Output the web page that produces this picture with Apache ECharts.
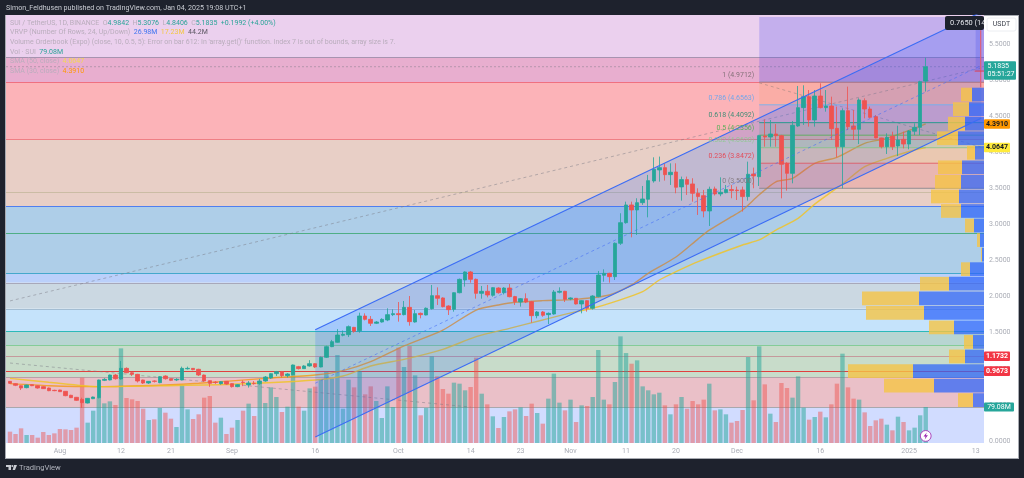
<!DOCTYPE html>
<html><head><meta charset="utf-8">
<style>
html,body{margin:0;padding:0;background:#1e222d;width:1024px;height:478px;overflow:hidden}
#frame{position:absolute;left:5px;top:15px;width:1012px;height:442px;background:#fff;border:1px solid #a8abb2}
#c{position:absolute;left:0;top:0;width:1024px;height:478px;filter:blur(.3px)}
</style>
<script src="https://cdn.jsdelivr.net/npm/echarts@6/dist/echarts.min.js"></script>
</head><body><div id="frame"></div><div id="c"></div>
<script>
// ---------- data ----------
const firstDay = '2024-07-23', dayCount = 176;
const tickLabels = {'2024-08-01':'Aug','2024-08-12':'12','2024-08-21':'21','2024-09-01':'Sep','2024-09-16':'16','2024-10-01':'Oct','2024-10-14':'14','2024-10-23':'23','2024-11-01':'Nov','2024-11-11':'11','2024-11-20':'20','2024-12-01':'Dec','2024-12-16':'16','2025-01-01':'2025','2025-01-13':'13'};
const priceTicks = [0,0.5,1,1.5,2,2.5,3,3.5,4,4.5,5,5.5];
// open, close, low, high
const ohlc = [
[.826,.799,.79,.83],[.794,.771,.76,.80],[.766,.734,.706,.77],[.739,.776,.73,.78],[.78,.766,.76,.785],[.766,.734,.725,.77],[.753,.725,.72,.76],[.734,.697,.69,.74],[.702,.697,.69,.71],[.706,.683,.68,.71],
[.688,.628,.62,.69],[.633,.600,.595,.64],[.605,.563,.555,.61],[.577,.531,.457,.60],[.526,.591,.52,.595],[.586,.609,.58,.615],[.600,.845,.59,.85],[.84,.854,.83,.87],[.845,.914,.84,.92],[.914,.863,.85,.93],
[.859,1.006,.85,1.108],[1.006,.946,.94,1.02],[.946,.923,.90,.96],[.923,.831,.81,.93],[.845,.803,.79,.85],[.803,.826,.79,.83],[.831,.826,.81,.84],[.808,.891,.80,.90],[.900,.863,.85,.91],[.863,.84,.83,.87],
[.845,.854,.83,.87],[.845,1.006,.84,1.03],[1.0,1.006,.99,1.03],[1.006,.988,.98,1.01],[.993,.914,.90,1.0],[.914,.831,.82,.92],[.836,.799,.75,.84],[.815,.81,.79,.83],[.794,.822,.78,.83],[.826,.789,.78,.83],
[.794,.753,.74,.80],[.753,.78,.745,.785],[.815,.81,.76,.84],[.776,.803,.74,.83],[.80,.795,.78,.83],[.794,.831,.78,.86],[.831,.886,.82,.90],[.873,.933,.86,.94],[.933,.96,.90,.97],[.96,.905,.88,.97],
[.905,.928,.88,.94],[.919,1.053,.91,1.06],[1.03,1.002,.99,1.04],[1.002,1.039,1.0,1.05],[1.039,1.071,1.03,1.12],[1.071,1.025,1.01,1.08],[1.025,1.159,1.02,1.17],[1.159,1.307,1.15,1.32],[1.307,1.376,1.30,1.40],[1.367,1.468,1.36,1.55],
[1.464,1.477,1.45,1.53],[1.473,1.584,1.44,1.6],[1.574,1.519,1.50,1.58],[1.528,1.731,1.50,1.777],[1.731,1.685,1.67,1.768],[1.685,1.630,1.593,1.731],[1.63,1.648,1.62,1.66],[1.648,1.685,1.64,1.70],[1.676,1.750,1.66,1.838],[1.750,1.764,1.73,1.824],
[1.764,1.750,1.653,1.925],[1.750,1.851,1.74,1.939],[1.851,1.653,1.597,2.008],[1.648,1.764,1.64,1.814],[1.768,1.750,1.699,1.78],[1.745,1.838,1.74,1.85],[1.833,2.013,1.82,2.161],[2.013,1.976,1.884,2.128],[1.981,1.861,1.85,1.99],[1.870,1.819,1.745,1.88],
[1.824,2.054,1.791,2.06],[2.054,2.239,2.045,2.25],[2.230,2.341,2.138,2.350],[2.341,2.239,2.193,2.355],[2.239,2.045,1.971,2.25],[2.045,2.073,1.971,2.147],[2.073,2.022,1.990,2.161],[2.018,2.124,1.999,2.13],[2.119,2.054,2.04,2.13],[2.054,2.119,2.03,2.13],
[2.119,1.999,1.99,2.174],[2.0,1.930,1.884,2.01],[1.925,1.971,1.861,1.98],[1.971,1.925,1.91,2.045],[1.930,1.736,1.639,1.94],[1.736,1.787,1.699,1.80],[1.787,1.741,1.72,1.80],[1.750,1.768,1.620,1.78],[1.759,2.064,1.75,2.091],[2.06,2.073,2.045,2.128],
[2.073,1.962,1.925,2.08],[1.967,1.981,1.95,1.99],[1.976,1.898,1.89,1.98],[1.898,1.944,1.768,1.95],[1.944,1.838,1.791,1.95],[1.838,2.008,1.82,2.02],[2.0,2.299,1.99,2.355],[2.295,2.322,2.207,2.378],[2.322,2.276,2.193,2.33],[2.276,2.738,2.23,2.75],
[2.738,3.024,2.715,3.154],[3.024,3.269,3.01,3.315],[3.269,3.2,2.821,3.315],[3.2,3.301,2.854,3.362],[3.301,3.352,3.27,3.532],[3.348,3.606,3.098,3.685],[3.602,3.763,3.578,3.929],[3.754,3.786,3.592,3.939],[3.786,3.689,3.606,3.846],[3.689,3.722,3.546,3.846],
[3.726,3.514,3.431,3.846],[3.519,3.62,3.329,3.662],[3.62,3.555,3.408,3.662],[3.56,3.431,3.315,3.639],[3.431,3.385,3.131,3.5],[3.398,3.186,3.098,3.477],[3.186,3.486,2.978,3.523],[3.491,3.422,3.40,3.523],[3.422,3.445,3.39,3.652],[3.44,3.482,3.43,3.546],
[3.482,3.468,3.362,3.546],[3.475,3.468,3.338,3.523],[3.477,3.385,3.177,3.523],[3.385,3.694,3.329,3.869],[3.698,3.671,3.5,3.786],[3.661,4.229,3.532,4.24],[4.224,4.21,4.076,4.455],[4.21,4.252,4.076,4.446],[4.252,4.229,4.076,4.39],[4.229,3.832,3.361,4.24],
[3.846,3.707,3.467,3.86],[3.707,4.372,3.569,4.432],[4.363,4.617,4.35,4.917],[4.617,4.769,4.377,4.926],[4.769,4.446,4.354,4.861],[4.446,4.778,4.354,4.861],[4.778,4.617,4.607,4.954],[4.617,4.64,4.561,4.861],[4.64,4.326,4.169,4.769],[4.33,4.076,3.929,4.631],
[4.076,4.575,3.499,4.607],[4.575,4.354,4.307,4.908],[4.363,4.317,4.169,4.584],[4.317,4.723,4.113,4.746],[4.714,4.598,4.469,4.746],[4.598,4.483,4.47,4.631],[4.492,4.197,4.192,4.515],[4.197,4.076,4.053,4.20],[4.076,4.206,3.975,4.261],[4.22,4.076,4.03,4.284],
[4.086,4.169,3.947,4.367],[4.178,4.113,4.053,4.284],[4.113,4.293,4.04,4.307],[4.29,4.344,4.238,4.40],[4.344,4.977,4.238,4.99],[4.9842,5.1835,4.8406,5.3076]];
const volumes = [24.9,19.8,32.2,17.6,17.6,11.7,24.2,17.6,21.2,30.7,30,28.5,33.7,143.5,44.7,71,99.6,87.1,91.5,83.4,
207.9,98.8,95.9,92.2,75.4,50.5,52,76.9,66.6,53.4,35.1,127.4,73.9,52.7,63,99.6,103.2,44.7,55.6,19.8,
33.7,50.5,71,86.4,59.3,131,87.8,122.2,101,68.1,79.8,171.3,79.8,71,120,123.7,139.8,156.6,142,193.2,
75.4,139,122.2,158.1,106.9,124.4,92.2,54.9,124.4,79,209.4,166.9,213,148.6,60.8,76.9,190.3,146.4,118.6,108.3,
132.5,130.3,115.7,123,187.4,108.3,84.9,58.6,32.9,57.1,69.5,73.9,78.3,59.3,86.4,65.9,42.5,97.4,152.3,88.6,
71.7,95.2,46.1,82.7,81.3,101,204.2,95.2,84.9,134,234.2,197.6,174.2,181.5,124.4,115.7,106.9,110.5,82.7,63,
84.9,101,75.4,92.2,84.9,95.2,130.3,71.7,73.9,63,44.7,48.3,72.5,188.9,93.7,212.3,128.8,64.4,46.1,131.8,
120.8,99.6,146.4,77.6,51.2,57.1,68.8,56.4,84.9,130.3,196.2,122.2,97.4,95.2,67.3,37.3,49.8,53.4,40.3,27.8,
57.8,46.1,27.8,33.7,60.8,79.08];
const sma30 = [[0,.794],[7,.766],[16,.753],[28,.776],[34,.799],[46,.868],[55,.914],[60,.974],[65,1.099],[71,1.316],[78,1.537],[84,1.814],[88,1.884],[91,1.921],[96,1.944],[102,1.962],[108,2.022],[112,2.161],[115,2.322],[120,2.548],[124,2.80],[126,2.92],[130,3.107],[132,3.2],[135,3.41],[138,3.59],[141,3.638],[145,3.846],[149,3.929],[154,4.123],[158,4.192],[163,4.33],[165,4.391]];
const sma50 = [[0,.868],[7,.813],[16,.753],[28,.766],[40,.785],[55,.845],[60,.900],[65,1.039],[71,1.131],[78,1.27],[84,1.445],[90,1.56],[96,1.676],[102,1.791],[105,1.838],[109,1.93],[114,2.068],[117,2.23],[120,2.345],[124,2.484],[132,2.715],[135,2.784],[138,2.922],[142,3.084],[145,3.28],[150,3.56],[154,3.8],[158,3.915],[163,4.03],[165,4.0647]];
// horizontal zones and lines
const zoneEdges = [5.9,5.32,4.97,4.18,3.255,2.327,2.19,1.83,1.52,1.33,.886,.47,-0.0277];
const levelLines = [5.32,4.97,4.18,3.45,3.255,2.88,2.327,2.19,1.83,1.53,1.33,1.1732,.9673,.886,.47];
// channel: [day index, price]
const chanUpper = [[55,1.54],[175,5.94]];
const chanMid = [[55,0.80],[175,5.2]];
const chanLower = [[55,0.055],[175,4.47]];
const dashLong = [[0,1.94],[175,5.166]];
const dashFall = [[135,4.96],[175,4.07]];
const dashLeft = [[0,1.08],[83,.47]];
const lastClose = 5.1835;
// fibonacci
const fibStart = 135;
const fibRatios = ['1','0.786','0.618','0.5','0.382','0.236','0'];
const fibPrices = [4.9712,4.6563,4.4092,4.2356,4.0620,3.8472,3.5000];
const fibTop = 5.873;
// volume profile
const vpBase = .46, vpStep = .2015;
const vpUp = [27.5,125,177.5,47.5,27.5,75,150,162.5,87.5,35,5,10,25,57.5,62.5,57.5,55,22.5,65,47.5,37.5,30];
const vpDown = [37.5,125,162.5,40,22.5,62.5,145,142.5,72.5,22.5,2.5,7.5,22.5,50,70,65,60,20,52.5,42.5,40,27.5];
// price tags: price, text
const tagPrices = [4.3910,4.0647,1.1732,.9673];
const tagTexts = ['4.3910','4.0647','1.1732','0.9673'];
const volumeTag = '79.08M';
// ---------- styles ----------
const zoneColors = ['#ebd0ee','#e8aecf','#fcb3b8','#e8cfc6','#aecee8','#bbd0fb','#cbd8e2','#c5e3fb','#b7d5d2','#c8dcca','#eac0c8','#d1dcff'];
const lineColors = ['#a793b0','#f07080','#ef7f85','#cbbca4','#4f7ff0','#4fae85','#45a8cc','#a8a8ba','#a3bdd3','#2cb9b9','#84cc98','#c59a9c','#e0403f','#b8a0a8','#a8a8ae'];
const fibLineColors = ['#8d8b98','#64b5f6','#089981','#4caf50','#81c784','#e0505a','#808088'];
const fibTextColors = ['#7a6a70','#64a5f0','#2f8a70','#4caf50','#90c890','#e8404c','#80757a'];
const fibFills = ['rgba(242,140,60,.14)','rgba(90,130,246,.18)','rgba(8,153,129,.15)','rgba(76,175,80,.15)','rgba(255,152,0,.10)','rgba(242,54,69,.16)'];
const UP='#26a69a', DOWN='#ef5350', FONT='Roboto,"Noto Sans",sans-serif', AXIS='#a9acb5';
const tagFills=['#ff9800','#ffeb3b','#f23645','#f23645'], tagInk=['#131722','#131722','#fff','#fff'];

const categories=[];(function(){const d=new Date(firstDay+'T00:00:00Z');for(let i=0;i<dayCount;i++){categories.push(d.toISOString().slice(0,10));d.setUTCDate(d.getUTCDate()+1);}})();

const chart=echarts.init(document.getElementById('c'),null,{renderer:'canvas'});
const lineSer=(data,color,width,type,z,smooth)=>({type:'line',data,showSymbol:false,symbol:'none',smooth:smooth||false,lineStyle:{color,width,type},z,silent:true,animation:false,clip:true});

const series=[
 {type:'custom',z:1,clip:false,silent:true,data:zoneColors.map((c,i)=>[0,zoneEdges[i],zoneEdges[i+1]]),encode:{x:0,y:[1,2]},
  renderItem(p,api){const cs=p.coordSys;const a=api.coord([0,api.value(1)])[1],b=api.coord([0,api.value(2)])[1];
   return{type:'rect',shape:{x:cs.x-1.2,y:a,width:cs.width+1.2,height:b-a},style:{fill:zoneColors[p.dataIndex]}};}},
 {type:'custom',z:2,clip:false,silent:true,data:levelLines.map(v=>[0,v]),encode:{x:0,y:1},
  renderItem(p,api){const cs=p.coordSys;const y=Math.round(api.coord([0,api.value(1)])[1])+.5;
   return{type:'line',shape:{x1:cs.x-1.2,y1:y,x2:cs.x+cs.width,y2:y},style:{stroke:lineColors[p.dataIndex],lineWidth:1.2}};}},
 {type:'bar',yAxisIndex:1,barWidth:4.4,z:3,silent:true,data:volumes.map((v,i)=>({value:v,itemStyle:{color:ohlc[i][1]>=ohlc[i][0]?'rgba(38,166,154,.52)':'rgba(239,83,80,.48)'}}))},
 lineSer(sma30,'rgba(245,150,20,.8)',1.4,'solid',4,.25),
 lineSer(sma50,'rgba(240,195,40,.85)',1.4,'solid',4,.25),
 lineSer(dashLong,'rgba(120,120,130,.6)',.8,[3,3],5),
 lineSer(dashFall,'rgba(120,120,130,.6)',.8,[3,3],5),
 lineSer(dashLeft,'rgba(120,120,130,.6)',.8,[3,3],5),
 {type:'custom',z:5,clip:false,silent:true,data:[[0,lastClose]],encode:{x:0,y:1},
  renderItem(p,api){const cs=p.coordSys;const y=api.coord([0,api.value(1)])[1];
   return{type:'line',shape:{x1:cs.x-1.2,y1:y,x2:cs.x+cs.width,y2:y},style:{stroke:'rgba(120,120,130,.65)',lineWidth:.7,lineDash:[2,2]}};}},
 {type:'custom',z:6,clip:true,silent:true,data:[[chanUpper[0][0],chanUpper[0][1],chanUpper[1][0],chanUpper[1][1],chanLower[1][1],chanLower[0][1]]],encode:{x:[0,2],y:[1,3]},
  renderItem(p,api){const x0=api.value(0),x1=api.value(2);
   const pts=[api.coord([x0,api.value(1)]),api.coord([x1,api.value(3)]),api.coord([x1,api.value(4)]),api.coord([x0,api.value(5)])];
   return{type:'polygon',shape:{points:pts},style:{fill:'rgba(41,98,255,.2)'}};}},
 {type:'custom',z:6,clip:false,silent:true,data:[[fibStart,fibTop,fibPrices[0]]],encode:{x:0,y:[1,2]},
  renderItem(p,api){const cs=p.coordSys;const a=api.coord([api.value(0),api.value(1)]),b=api.coord([api.value(0),api.value(2)]);
   return{type:'rect',shape:{x:a[0],y:a[1],width:cs.x+cs.width-a[0],height:b[1]-a[1]},style:{fill:'rgba(60,60,235,.22)'}};}},
 {type:'custom',z:6,clip:false,silent:true,data:fibFills.map((c,i)=>[fibStart,fibPrices[i],fibPrices[i+1]]),encode:{x:0,y:[1,2]},
  renderItem(p,api){const cs=p.coordSys;const a=api.coord([api.value(0),api.value(1)]),b=api.coord([api.value(0),api.value(2)]);
   return{type:'rect',shape:{x:a[0],y:a[1],width:cs.x+cs.width-a[0],height:b[1]-a[1]},style:{fill:fibFills[p.dataIndex]}};}},
 {type:'custom',z:6,clip:false,silent:true,data:fibPrices.map(v=>[fibStart,v]),encode:{x:0,y:1},
  renderItem(p,api){const cs=p.coordSys;const a=api.coord([api.value(0),api.value(1)]);
   return{type:'line',shape:{x1:a[0],y1:a[1],x2:cs.x+cs.width,y2:a[1]},style:{stroke:fibLineColors[p.dataIndex],lineWidth:1,opacity:.8}};}},
 {type:'custom',xAxisIndex:1,yAxisIndex:0,z:7,clip:false,silent:true,data:vpUp.map((u,i)=>[u,vpDown[i],vpBase+i*vpStep]),encode:{x:0,y:2},
  renderItem(p,api){const u=api.value(0),d=api.value(1),b=api.value(2);
   const p0=api.coord([0,b]),p1=api.coord([u,b+vpStep]),p2=api.coord([u+d,b+vpStep]);
   return{type:'group',children:[
    {type:'rect',shape:{x:p1[0],y:p1[1],width:p0[0]-p1[0],height:p0[1]-p1[1]-.8},style:{fill:'rgba(45,100,250,.72)'}},
    {type:'rect',shape:{x:p2[0],y:p1[1],width:p1[0]-p2[0],height:p0[1]-p1[1]-.8},style:{fill:'rgba(245,196,70,.8)'}}]};}},
 {type:'candlestick',z:8,silent:true,barWidth:4,data:ohlc,itemStyle:{color:UP,color0:DOWN,borderColor:UP,borderColor0:DOWN,borderWidth:.8}},
 lineSer(chanUpper,'#3b6cf5',1.1,'solid',9),
 lineSer(chanLower,'#3b6cf5',1.1,'solid',9),
 lineSer(chanMid,'rgba(70,110,245,.75)',.8,[3,3],9),
 {type:'custom',z:10,clip:false,silent:true,data:fibPrices.map(v=>[fibStart,v]),encode:{x:0,y:1},
  renderItem(p,api){const a=api.coord([api.value(0),api.value(1)]);
   return{type:'text',x:a[0]-5,y:a[1]-7,style:{text:fibRatios[p.dataIndex]+' ('+fibPrices[p.dataIndex].toFixed(4)+')',fill:fibTextColors[p.dataIndex],font:'7px '+FONT,textAlign:'right',textVerticalAlign:'middle',opacity:.9}};}},
 {type:'custom',z:11,clip:false,silent:true,data:[[174,fibTop,lastClose-.06,5.69,4.90]],encode:{x:0,y:[1,2]},
  renderItem(p,api){const cs=p.coordSys;const t=api.coord([api.value(0),api.value(1)]),b=api.coord([api.value(0),api.value(2)]);
   const a1=api.coord([api.value(0),api.value(3)]),a2=api.coord([api.value(0),api.value(4)]);const r=cs.x+cs.width;
   return{type:'group',children:[
    {type:'rect',shape:{x:t[0],y:t[1],width:r-t[0],height:b[1]-t[1]},style:{fill:'rgba(60,70,230,.22)'}},
    {type:'line',shape:{x1:t[0]+5,y1:a1[1],x2:t[0]+5,y2:a2[1]},style:{stroke:'#e0607a',lineWidth:1.2}},
    {type:'line',shape:{x1:t[0]-1,y1:b[1],x2:r,y2:b[1]},style:{stroke:'#e04050',lineWidth:1}}]};}},
 {type:'custom',z:12,clip:false,silent:true,data:[[165,.07]],encode:{x:0,y:1},
  renderItem(p,api){const c=api.coord([api.value(0),api.value(1)]);
   return{type:'group',x:c[0],y:c[1],children:[
    {type:'circle',shape:{cx:0,cy:0,r:5.4},style:{fill:'#fff',stroke:'#ab47bc',lineWidth:1}},
    {type:'polygon',shape:{points:[[1,-3.5],[-2.2,.6],[-.2,.6],[-1,3.5],[2.2,-.6],[.2,-.6]]},style:{fill:'#9c27b0'}}]};}},
 {type:'custom',z:20,clip:false,silent:true,data:tagPrices.map(v=>[0,v]),encode:{x:0,y:1},
  renderItem(p,api){const cs=p.coordSys,y=api.coord([0,api.value(1)])[1],x=cs.x+cs.width,i=p.dataIndex;
   return{type:'group',children:[
    {type:'rect',shape:{x:x,y:y-4.8,width:26,height:9.6,r:1},style:{fill:tagFills[i]}},
    {type:'text',x:x+13,y:y,style:{text:tagTexts[i],fill:tagInk[i],font:'bold 7px '+FONT,textAlign:'center',textVerticalAlign:'middle'}}]};}},
 {type:'custom',z:20,clip:false,silent:true,data:[[0,lastClose]],encode:{x:0,y:1},
  renderItem(p,api){const cs=p.coordSys,y=api.coord([0,api.value(1)])[1],x=cs.x+cs.width;
   return{type:'group',children:[
    {type:'rect',shape:{x:x,y:y-5.5,width:32,height:18.5,r:1},style:{fill:UP}},
    {type:'text',x:x+3.5,y:y-.3,style:{text:lastClose.toFixed(4),fill:'#fff',font:'7px '+FONT,textVerticalAlign:'middle'}},
    {type:'text',x:x+3.5,y:y+8,style:{text:'05:51:27',fill:'#fff',font:'7px '+FONT,textVerticalAlign:'middle'}}]};}},
 {type:'custom',yAxisIndex:1,z:20,clip:false,silent:true,data:[[0,volumes[volumes.length-1]]],encode:{x:0,y:1},
  renderItem(p,api){const cs=p.coordSys,y=api.coord([0,api.value(1)])[1],x=cs.x+cs.width;
   return{type:'group',children:[
    {type:'rect',shape:{x:x,y:y-4.5,width:30,height:9,r:1},style:{fill:UP}},
    {type:'text',x:x+15,y:y,style:{text:volumeTag,fill:'#fff',font:'7px '+FONT,textAlign:'center',textVerticalAlign:'middle'}}]};}}
];

const F='7px '+FONT;
const legendRich={g:{fill:'#b9adbc',font:F},t:{fill:'#2aa498',font:F},b:{fill:'#3f74f0',font:F},y:{fill:'#f3c744',font:F},k:{fill:'#5a5560',font:F},o:{fill:'#ff9800',font:F},yy:{fill:'#f2d94e',font:F}};
const legendRows=[
 '{g|SUI / TetherUS, 1D, BINANCE  O}{t|4.9842}{g|  H}{t|5.3076}{g|  L}{t|4.8406}{g|  C}{t|5.1835  +0.1992 (+4.00%)}',
 '{g|VRVP (Number Of Rows, 24, Up/Down)  }{b|26.98M}{g|  }{y|17.23M}{g|  }{k|44.2M}',
 "{g|Volume Orderbook (Expo) (close, 10, 0.5, 5): Error on bar 612: In 'array.get()' function. Index 7 is out of bounds, array size is 7.}",
 '{g|Vol · SUI  }{t|79.08M}',
 '{g|SMA (50, close)  }{yy|4.0647}',
 '{g|SMA (30, close)  }{o|4.3910}'];
const legendY=[23,32.6,42.2,51.8,61.5,70.8];

const graphic=[
 {type:'text',x:6,y:8,z:30,style:{text:'Simon_Feldhusen published on TradingView.com, Jan 04, 2025 19:08 UTC+1',fill:'#c9ccd3',font:'7.1px '+FONT,textVerticalAlign:'middle'}},
 ...legendRows.map((r,i)=>({type:'text',x:10,y:legendY[i],z:30,style:{text:r,rich:legendRich,textVerticalAlign:'middle'}})),
 {type:'rect',z:40,shape:{x:945,y:16,width:39,height:14,r:2},style:{fill:'#1e222d'}},
 {type:'text',z:41,x:950,y:23,style:{text:'0.7650 (14.9',fill:'#e6e8ee',font:'7.4px '+FONT,textVerticalAlign:'middle'}},
 {type:'rect',z:42,shape:{x:984,y:16,width:33,height:18},style:{fill:'#fff'}},
 {type:'rect',z:43,shape:{x:987,y:18,width:29,height:13,r:2},style:{fill:'#fff',stroke:'#eceef2',lineWidth:1}},
 {type:'text',z:44,x:1001.5,y:24.5,style:{text:'USDT',fill:'#3b3f4a',font:'7px '+FONT,textAlign:'center',textVerticalAlign:'middle'}},
 {type:'polygon',z:30,shape:{points:[[6,465],[11,465],[11,470],[8.5,470],[8.5,467],[6,467]]},style:{fill:'#c9ccd3'}},
 {type:'circle',z:30,shape:{cx:12.3,cy:466,r:1},style:{fill:'#c9ccd3'}},
 {type:'polygon',z:30,shape:{points:[[14,465],[17,465],[15,470],[12.6,470]]},style:{fill:'#c9ccd3'}},
 {type:'text',z:30,x:19,y:468,style:{text:'TradingView',fill:'#b2b5be',font:'7.6px '+FONT,textVerticalAlign:'middle'}}
];

chart.setOption({
 animation:false,backgroundColor:'transparent',
 grid:{left:7.2,right:40,top:15,bottom:35,containLabel:false},
 tooltip:{show:false},
 xAxis:[
  {type:'category',data:categories,boundaryGap:true,axisLine:{show:false},axisTick:{show:false},splitLine:{show:false},
   axisLabel:{color:AXIS,fontSize:7,fontFamily:FONT,margin:5,hideOverlap:false,interval:(i,v)=>v in tickLabels,formatter:v=>tickLabels[v]||''}},
  {type:'value',min:0,max:2442,inverse:true,show:false,splitLine:{show:false}}],
 yAxis:[
  {type:'value',position:'right',min:-0.0277,max:5.9,axisLine:{show:false},axisTick:{show:false},splitLine:{show:false},
   axisLabel:{customValues:priceTicks,color:AXIS,fontSize:7,fontFamily:FONT,margin:5,formatter:v=>v.toFixed(4)}},
  {type:'value',min:0,max:940,show:false,splitLine:{show:false}}],
 series,graphic
});
</script></body></html>
